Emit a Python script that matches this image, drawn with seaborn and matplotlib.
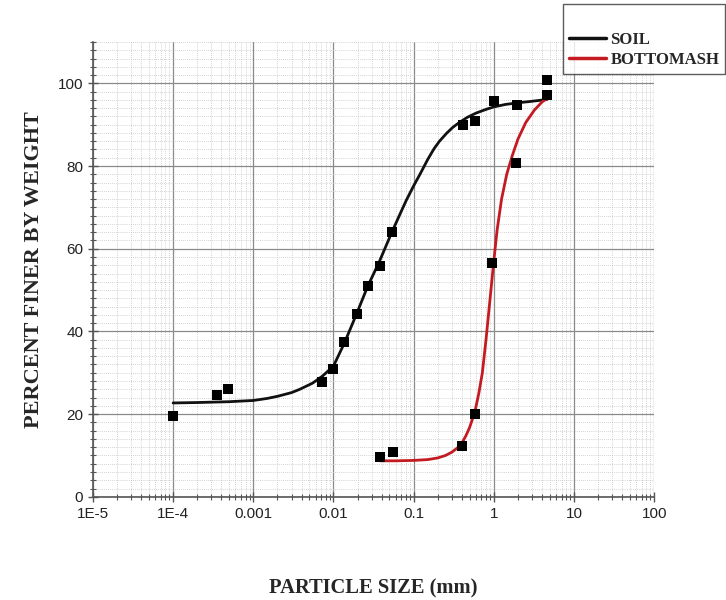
import numpy as np
import pandas as pd
import seaborn as sns
import matplotlib.pyplot as plt
from matplotlib.lines import Line2D
from matplotlib.ticker import LogLocator, FixedLocator, MultipleLocator, FuncFormatter

soil_x = [1e-4, 3.5e-4, 4.9e-4, 0.0071, 0.01, 0.0137, 0.0194, 0.0266, 0.0376, 0.053,
          0.41, 0.58, 1.0, 1.94, 4.6]
soil_y = [19.6, 24.6, 26.1, 27.8, 31.0, 37.4, 44.2, 51.0, 55.8, 64.0,
          89.9, 90.8, 95.7, 94.7, 100.7]
ash_x = [0.038, 0.055, 0.40, 0.58, 0.95, 1.9, 4.6]
ash_y = [9.7, 10.9, 12.3, 20.0, 56.5, 80.7, 97.3]

# fitted curves
soil_fit_x = [1e-4, 2e-4, 5e-4, 1e-3, 1.5e-3, 2e-3, 3e-3, 3.8e-3, 5.5e-3, 7.3e-3, 0.01,
              0.0137, 0.0194, 0.0266, 0.0376, 0.053, 0.067, 0.081, 0.1, 0.12, 0.15, 0.18,
              0.21, 0.26, 0.31, 0.376, 0.47, 0.6, 0.8, 1.0, 1.4, 2.0, 2.8, 3.8, 4.6]
soil_fit_y = [22.7, 22.8, 23.0, 23.3, 23.8, 24.3, 25.2, 26.0, 27.5, 29.2, 31.6,
              37.2, 44.2, 50.8, 57.0, 63.8, 68.2, 71.7, 75.2, 78.0, 81.6, 84.2,
              86.0, 88.0, 89.4, 90.6, 91.8, 92.8, 93.7, 94.3, 94.9, 95.3, 95.6, 95.9, 96.1]
ash_fit_x = [0.038, 0.06, 0.1, 0.15, 0.2, 0.25, 0.3, 0.35, 0.4, 0.45, 0.5, 0.58, 0.65,
             0.72, 0.8, 0.9, 1.0, 1.1, 1.25, 1.45, 1.7, 2.0, 2.5, 3.2, 4.0, 4.6]
ash_fit_y = [8.7, 8.7, 8.8, 9.0, 9.4, 10.0, 10.8, 11.8, 13.0, 14.8, 16.8, 20.5, 25.0,
             30.0, 38.0, 48.0, 57.0, 64.5, 72.0, 78.0, 82.5, 86.5, 90.5, 93.5, 95.5, 96.3]

x_ticks = [1e-5, 1e-4, 1e-3, 1e-2, 1e-1, 1, 10, 100]
x_tick_labels = ["1E-5", "1E-4", "0.001", "0.01", "0.1", "1", "10", "100"]

sns.set_style("white")

fig = plt.figure(figsize=(7.26, 6), dpi=100)
ax = fig.add_axes([0.128, 0.172, 0.773, 0.758])

pts = pd.DataFrame({"x": soil_x + ash_x, "y": soil_y + ash_y})
fits = pd.concat([
    pd.DataFrame({"x": soil_fit_x, "y": soil_fit_y, "s": "SOIL"}),
    pd.DataFrame({"x": ash_fit_x, "y": ash_fit_y, "s": "BOTTOMASH"}),
])

ax.set_xscale("log")
sns.lineplot(data=fits, x="x", y="y", hue="s", palette={"SOIL": "#111111", "BOTTOMASH": "#c41a22"},
             sort=False, linewidth=2, legend=False, ax=ax, zorder=3)
sns.scatterplot(data=pts, x="x", y="y", marker="s", s=42, color="black",
                edgecolor="black", linewidth=0, ax=ax, zorder=4)

ax.set_xlim(1e-5, 100)
ax.set_ylim(0, 110)
ax.xaxis.set_major_locator(FixedLocator(x_ticks))
ax.set_xticklabels(x_tick_labels)
ax.xaxis.set_minor_locator(LogLocator(base=10, subs=np.arange(2, 10), numticks=20))
ax.xaxis.set_minor_formatter(FuncFormatter(lambda v, p: ""))
ax.yaxis.set_major_locator(FixedLocator([0, 20, 40, 60, 80, 100]))
ax.yaxis.set_minor_locator(MultipleLocator(2))

ax.grid(which="major", color="#8a8a8a", linewidth=0.9)
ax.grid(which="minor", color="#c4c4c4", linewidth=0.6, linestyle=(0, (1, 1.5)))
ax.set_axisbelow(True)

for side in ["top", "right"]:
    ax.spines[side].set_visible(False)
for side in ["left", "bottom"]:
    ax.spines[side].set_color("#555555")
    ax.spines[side].set_linewidth(1.2)

ax.tick_params(which="major", direction="inout", length=7, width=1, color="#555555",
               labelsize=11, labelcolor="#222222", bottom=True, left=True)
ax.tick_params(which="minor", direction="inout", length=4, width=0.8, color="#555555",
               bottom=True, left=True)
for lab in ax.get_xticklabels() + ax.get_yticklabels():
    lab.set_family("Liberation Sans")

ax.set_xlabel("PARTICLE SIZE (mm)", family="Liberation Serif", weight="bold",
              size=14.8, labelpad=42)
ax.set_ylabel("PERCENT FINER BY WEIGHT", family="Liberation Serif", weight="bold",
              size=16, labelpad=10)

handles = [Line2D([], [], color="#111111", lw=2.5), Line2D([], [], color="#c41a22", lw=2.5)]
leg = fig.legend(handles, ["SOIL", "BOTTOMASH"], loc="upper left",
                 bbox_to_anchor=(563 / 726, 1 - 4 / 600), title=" ",
                 title_fontproperties={"size": 12},
                 prop={"family": "Liberation Serif", "weight": "bold", "size": 12},
                 fancybox=False, frameon=True, handlelength=2.2, handletextpad=0.3,
                 borderpad=0.35, labelspacing=0.25, borderaxespad=0)
leg.get_frame().set_edgecolor("#333333")
leg.get_frame().set_linewidth(1)

fig.savefig("out.png", dpi=100)
